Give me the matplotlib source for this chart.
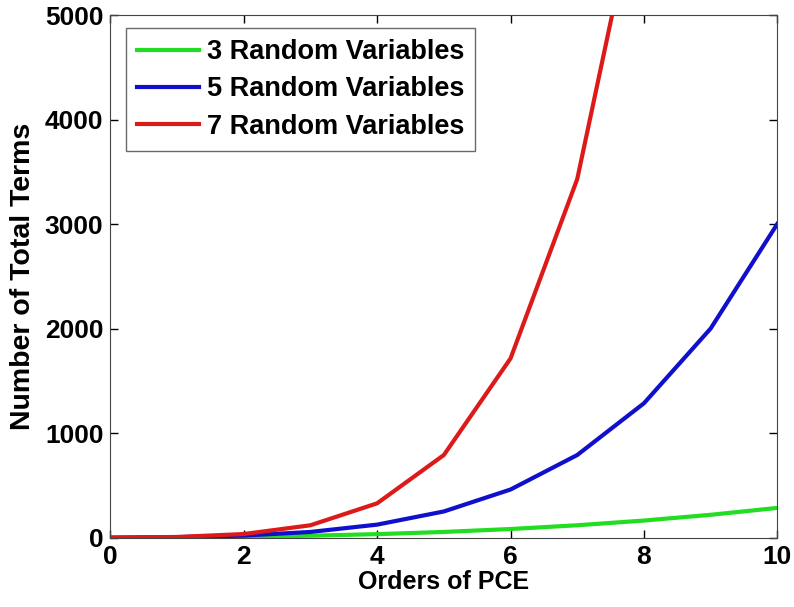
import numpy as np
import matplotlib.pyplot as plt

plt.rcParams['font.family'] = ['Liberation Sans', 'DejaVu Sans']
plt.rcParams['font.weight'] = 'bold'

orders = [0, 1, 2, 3, 4, 5, 6, 7, 8, 9, 10]
terms_3 = [1, 4, 10, 20, 35, 56, 84, 120, 165, 220, 286]
terms_5 = [1, 6, 21, 56, 126, 252, 462, 792, 1287, 2002, 3003]
terms_7 = [1, 8, 36, 120, 330, 792, 1716, 3432, 6435, 11440, 19448]

fig, ax = plt.subplots(1, 1, figsize=(7.94, 6.07), dpi=100)
fig.subplots_adjust(left=0.139, right=0.979, top=0.975, bottom=0.114)

ax.plot(orders, terms_3, color='#22dd22', lw=3, label='3 Random Variables')
ax.plot(orders, terms_5, color='#1010cc', lw=3, label='5 Random Variables')
ax.plot(orders, terms_7, color='#dd1a1a', lw=3, label='7 Random Variables')

ax.set_xlim(0, 10)
ax.set_ylim(0, 5000)
ax.set_xticks([0, 2, 4, 6, 8, 10])
ax.set_yticks([0, 1000, 2000, 3000, 4000, 5000])
ax.tick_params(direction='in', top=True, right=True, labelsize=19, length=6, width=1, pad=5)
for s in ax.spines.values():
  s.set_color('#444444')
ax.set_xlabel('Orders of PCE', fontsize=18, fontweight='bold', labelpad=1)
ax.set_ylabel('Number of Total Terms', fontsize=20.5, fontweight='bold', labelpad=6)

leg = ax.legend(loc='upper left', fontsize=19.5, fancybox=False, edgecolor='#444444',
                handlelength=2.3, borderpad=0.4, labelspacing=0.42, handletextpad=0.27,
                borderaxespad=0, bbox_to_anchor=(0.024, 0.975))
leg.get_frame().set_linewidth(1)

fig.savefig('out.png', dpi=100)
